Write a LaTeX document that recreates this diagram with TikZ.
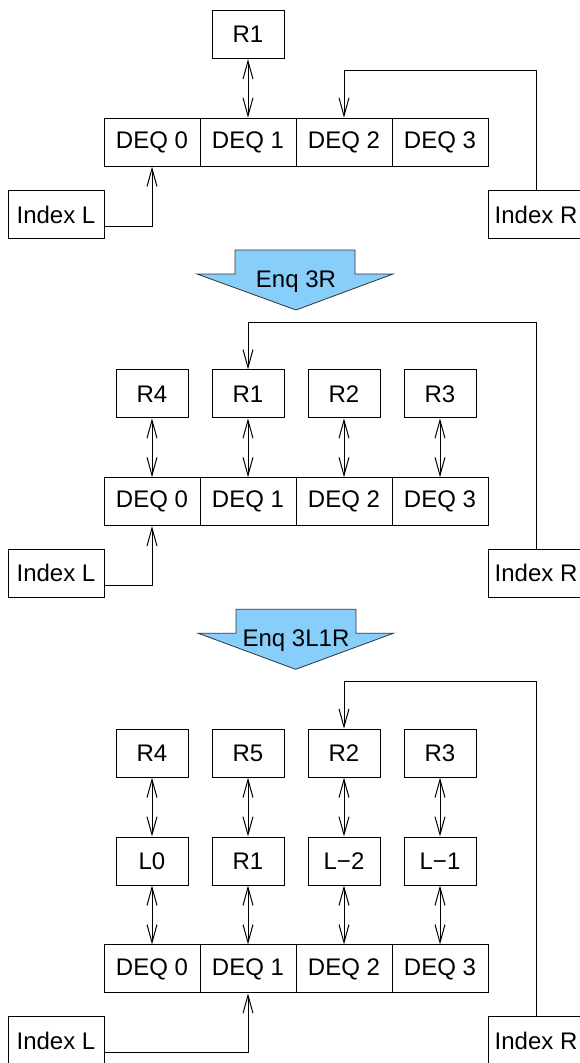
\documentclass[tikz,border=0pt]{standalone}
\usepackage{fontspec}
\setmainfont{Liberation Sans}
\usetikzlibrary{arrows.meta}
\newcommand\dfont{\fontsize{24pt}{28pt}\selectfont}
\definecolor{enqblue}{RGB}{135,206,250}
\tikzset{
  box/.style={draw, line width=1pt, inner sep=0pt, minimum height=48pt, font=\dfont},
  rbox/.style={box, minimum width=72pt},
  dbox/.style={box, minimum width=96pt},
  arr/.style={-{Straight Barb[length=18pt,width=10pt]}, line width=1pt},
  darr/.style={{Straight Barb[length=18pt,width=10pt]}-{Straight Barb[length=18pt,width=10pt]}, line width=1pt},
  enqshape/.style={draw=black!80, line width=0.8pt, fill=enqblue},
  enqtext/.style={anchor=base, inner sep=0pt, font=\dfont}
}
\begin{document}
\begin{tikzpicture}[x=1pt,y=-1pt]
\useasboundingbox (0,0) rectangle (580,1063);
\fill[white] (0,0) rectangle (580,1063);

% ---------- Section 1 ----------
\node[rbox] (a-r1) at (248,34.7) {R1};
\node[dbox] (a-d0) at (152,142.2) {DEQ 0};
\node[dbox] (a-d1) at (248,142.2) {DEQ 1};
\node[dbox] (a-d2) at (344,142.2) {DEQ 2};
\node[dbox] (a-d3) at (440,142.2) {DEQ 3};
\node[dbox] (a-il) at (56,214.7) {Index L};
\node[dbox] (a-ir) at (536,214.7) {Index R};
\draw[darr] (a-r1.south) -- (a-d1.north);
\draw[arr] ([yshift=-11.3pt]a-il.east) -| (a-d0.south);
\coordinate (a-t) at (344,70.7);
\draw[arr] (a-ir.north) |- (a-t) -- (a-d2.north);

% Enq 3R
\draw[enqshape] (235,250) -- (355,250) -- (355,274) -- (393,274) -- (296,310) -- (197,274) -- (235,274) -- cycle;
\node[enqtext] (enq1) at (296,287) {Enq 3R};

% ---------- Section 2 ----------
\node[rbox] (b-r4) at (152,393.9) {R4};
\node[rbox] (b-r1) at (248,393.9) {R1};
\node[rbox] (b-r2) at (344,393.9) {R2};
\node[rbox] (b-r3) at (440,393.9) {R3};
\node[dbox] (b-d0) at (152,501.7) {DEQ 0};
\node[dbox] (b-d1) at (248,501.7) {DEQ 1};
\node[dbox] (b-d2) at (344,501.7) {DEQ 2};
\node[dbox] (b-d3) at (440,501.7) {DEQ 3};
\node[dbox] (b-il) at (56,573.3) {Index L};
\node[dbox] (b-ir) at (536,573.3) {Index R};
\draw[darr] (b-r4.south) -- (b-d0.north);
\draw[darr] (b-r1.south) -- (b-d1.north);
\draw[darr] (b-r2.south) -- (b-d2.north);
\draw[darr] (b-r3.south) -- (b-d3.north);
\draw[arr] ([yshift=-11.7pt]b-il.east) -| (b-d0.south);
\coordinate (b-t) at (248,322.3);
\draw[arr] (b-ir.north) |- (b-t) -- (b-r1.north);

% Enq 3L1R
\draw[enqshape] (236,609.3) -- (356,609.3) -- (356,633.3) -- (393.3,633.3) -- (295.7,669.3) -- (198.3,633.3) -- (236,633.3) -- cycle;
\node[enqtext] (enq2) at (296,646.5) {Enq 3L1R};

% ---------- Section 3 ----------
\node[rbox] (c-r4) at (152,753.2) {R4};
\node[rbox] (c-r5) at (248,753.2) {R5};
\node[rbox] (c-r2) at (344,753.2) {R2};
\node[rbox] (c-r3) at (440,753.2) {R3};
\node[rbox] (c-l0) at (152,861) {L0};
\node[rbox] (c-r1) at (248,861) {R1};
\node[rbox] (c-lm2) at (344,861) {L−2};
\node[rbox] (c-lm1) at (440,861) {L−1};
\node[dbox] (c-d0) at (152,968.9) {DEQ 0};
\node[dbox] (c-d1) at (248,968.9) {DEQ 1};
\node[dbox] (c-d2) at (344,968.9) {DEQ 2};
\node[dbox] (c-d3) at (440,968.9) {DEQ 3};
\node[dbox] (c-il) at (56,1040.7) {Index L};
\node[dbox] (c-ir) at (536,1040.7) {Index R};
\draw[darr] (c-r4.south) -- (c-l0.north);
\draw[darr] (c-r5.south) -- (c-r1.north);
\draw[darr] (c-r2.south) -- (c-lm2.north);
\draw[darr] (c-r3.south) -- (c-lm1.north);
\draw[darr] (c-l0.south) -- (c-d0.north);
\draw[darr] (c-r1.south) -- (c-d1.north);
\draw[darr] (c-lm2.south) -- (c-d2.north);
\draw[darr] (c-lm1.south) -- (c-d3.north);
\draw[arr] ([yshift=-12pt]c-il.east) -| (c-d1.south);
\coordinate (c-t) at (344,681);
\draw[arr] (c-ir.north) |- (c-t) -- (c-r2.north);
\end{tikzpicture}
\end{document}
